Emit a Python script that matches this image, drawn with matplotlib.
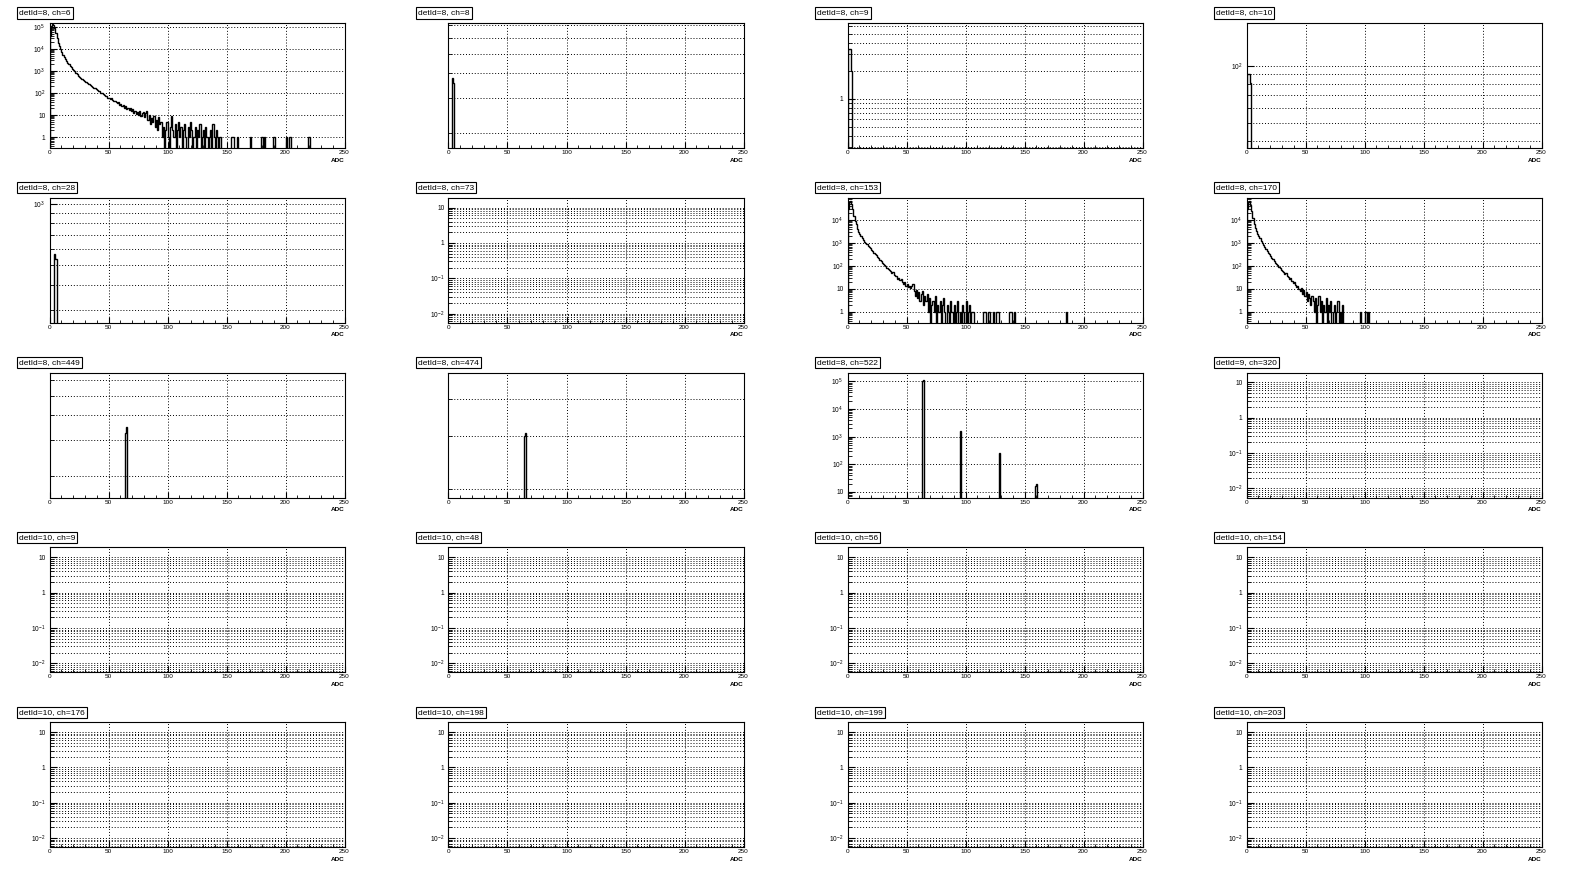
# ROOT-style canvas of ADC spectra, 5 rows x 4 columns, log y

import matplotlib.pyplot as plt
import numpy as np
from matplotlib.ticker import LogLocator, FuncFormatter, MultipleLocator, NullFormatter

plt.rcParams['font.family'] = ['Liberation Sans', 'DejaVu Sans']
plt.rcParams['mathtext.default'] = 'regular'

titles = ["detId=8, ch=6", "detId=8, ch=8", "detId=8, ch=9", "detId=8, ch=10",
          "detId=8, ch=28", "detId=8, ch=73", "detId=8, ch=153", "detId=8, ch=170",
          "detId=8, ch=449", "detId=8, ch=474", "detId=8, ch=522", "detId=9, ch=320",
          "detId=10, ch=9", "detId=10, ch=48", "detId=10, ch=56", "detId=10, ch=154",
          "detId=10, ch=176", "detId=10, ch=198", "detId=10, ch=199", "detId=10, ch=203"]

# counts per 1-ADC bin, starting at bin 0 (rest is zero)
ch6_counts = [40000, 110000, 130000, 120000, 90000, 52000, 30000, 19000, 13000, 9500,
              7500, 5500, 4300, 3400, 2700, 2300, 2000, 1700, 1450, 1250,
              1100, 950, 820, 700, 620, 540, 480, 440, 400, 360,
              320, 300, 270, 250, 225, 210, 190, 175, 165, 150,
              130, 125, 118, 105, 95, 88, 80, 76, 70, 62,
              60, 55, 58, 48, 45, 44, 40, 36, 38, 30,
              33, 26, 28, 22, 25, 19, 22, 17, 20, 15,
              18, 13, 16, 11, 14, 10, 15, 9, 12, 14,
              8, 12, 15, 6, 10, 4, 7, 5, 9, 3,
              6, 2, 8, 4, 5, 1, 3, 0, 2, 5,
              1, 0, 3, 9, 2, 1, 4, 0, 2, 5,
              1, 3, 0, 2, 4, 1, 0, 3, 1, 5,
              2, 0, 1, 3, 0, 2, 1, 4, 0, 1,
              2, 0, 3, 1, 0, 1, 2, 0, 4, 1,
              0, 2, 1, 0, 1, 0, 0, 0, 0, 0,
              0, 0, 0, 0, 1, 1, 0, 0, 0, 1,
              0, 0, 0, 0, 0, 0, 0, 0, 0, 0,
              1, 0, 0, 0, 0, 0, 0, 0, 0, 1,
              1, 0, 1, 0, 0, 0, 0, 0, 0, 1,
              1, 0, 0, 0, 0, 0, 0, 0, 0, 0,
              1, 0, 0, 1, 1, 0, 0, 0, 0, 0,
              0, 0, 0, 0, 0, 0, 0, 0, 0, 1,
              1]

ch153_counts = [30000, 60000, 65000, 50000, 30000, 15000, 9000, 6500, 4300, 3000,
                2600, 2000, 1600, 1300, 1150, 1000, 880, 760, 680, 600,
                520, 450, 380, 330, 290, 250, 215, 190, 160, 140,
                125, 110, 95, 85, 75, 68, 60, 48, 52, 40,
                35, 38, 28, 30, 24, 26, 20, 17, 19, 14,
                16, 12, 14, 11, 13, 17, 8, 5, 9, 4,
                7, 3, 6, 8, 2, 5, 3, 6, 1, 4,
                0, 2, 3, 1, 5, 0, 2, 1, 3, 0,
                2, 4, 1, 0, 2, 1, 0, 3, 1, 0,
                2, 0, 1, 3, 0, 1, 0, 2, 1, 0,
                3, 0, 1, 2, 0, 1, 1, 0, 0, 0,
                0, 0, 0, 0, 0, 1, 1, 0, 0, 1,
                1, 0, 0, 1, 0, 0, 1, 1, 0, 0,
                0, 0, 0, 0, 0, 0, 0, 1, 1, 0,
                0, 1, 0, 0, 0, 0, 0, 0, 0, 0,
                0, 0, 0, 0, 0, 0, 0, 0, 0, 0,
                0, 0, 0, 0, 0, 0, 0, 0, 0, 0,
                0, 0, 0, 0, 0, 0, 0, 0, 0, 0,
                0, 0, 0, 0, 0, 1]

ch170_counts = [30000, 60000, 65000, 45000, 25000, 12500, 7000, 4600, 3200, 2500,
                2000, 1600, 1250, 1000, 850, 700, 560, 460, 380, 320,
                270, 230, 200, 170, 140, 120, 105, 92, 80, 68,
                60, 52, 45, 48, 38, 33, 28, 30, 22, 18,
                20, 15, 12, 14, 10, 8, 11, 6, 9, 5,
                7, 3, 6, 4, 2, 5, 3, 1, 4, 0,
                2, 5, 1, 3, 0, 2, 1, 4, 0, 2,
                1, 3, 0, 1, 2, 0, 1, 3, 0, 1,
                0, 2, 0, 0, 0, 0, 0, 0, 0, 0,
                0, 0, 0, 0, 0, 0, 1, 0, 0, 0,
                1, 1, 0, 1]

# narrow peaks: (bin, count)
ch8_peaks = [(3, 378), (4, 356)]
ch9_peaks = [(0, 3.45), (1, 3.45), (2, 3.45), (3, 2.0)]
ch10_peaks = [(0, 90), (1, 90), (2, 90), (3, 81)]
ch28_peaks = [(4, 564), (5, 537)]
ch449_peaks = [(64, 327), (65, 348)]
ch474_peaks = [(64, 300), (65, 307)]
ch522_peaks = [(63, 105000), (64, 110000), (95, 1600), (128, 250), (159, 16), (160, 19)]

# y range of each pad
y_ranges = [(0.32, 1.5e5), (169, 714), (0.295, 6.5), (36.9, 168),
            (260, 1070), (0.0055, 19), (0.33, 9.4e4), (0.33, 9.4e4),
            (156, 650), (187, 490), (6.2, 2.1e5), (0.0055, 19),
            (0.0055, 19), (0.0055, 19), (0.0055, 19), (0.0055, 19),
            (0.0055, 19), (0.0055, 19), (0.0055, 19), (0.0055, 19)]

hist_data = {0: ch6_counts, 6: ch153_counts, 7: ch170_counts}
peak_data = {1: ch8_peaks, 2: ch9_peaks, 3: ch10_peaks, 4: ch28_peaks,
             8: ch449_peaks, 9: ch474_peaks, 10: ch522_peaks}

W, H = 1596, 874
fig = plt.figure(figsize=(W / 100, H / 100), dpi=100)
edges = np.arange(0, 251)


def ylabel_fmt(v, pos):
    e = int(round(np.log10(v)))
    if abs(v / 10.0 ** e - 1) > 1e-6:
        return ''
    if e == 0:
        return '1'
    if e == 1:
        return '10'
    return '$10^{%d}$' % e


for i in range(20):
    r, c = i // 4, i % 4
    left = c * 399 + 49.5
    top = r * 174.8 + 23
    ax = fig.add_axes([left / W, 1 - (top + 125) / H, 295 / W, 125 / H])
    ymin, ymax = y_ranges[i]
    ax.set_yscale('log')
    ax.set_xlim(0, 250)
    ax.set_ylim(ymin, ymax)

    counts = np.zeros(250)
    if i in hist_data:
        vals = hist_data[i]
        counts[:len(vals)] = vals
    if i in peak_data:
        for b, v in peak_data[i]:
            counts[b] = v
    if counts.sum() > 0:
        floor = ymin * 1e-3
        ax.stairs(np.where(counts > 0, counts, floor), edges, baseline=floor,
                  color='black', lw=1.0)

    ax.xaxis.set_major_locator(MultipleLocator(50))
    ax.xaxis.set_minor_locator(MultipleLocator(10))
    ax.yaxis.set_major_locator(LogLocator(base=10, numticks=30))
    ax.yaxis.set_minor_locator(LogLocator(base=10, subs=np.arange(2, 10), numticks=30))
    ax.yaxis.set_major_formatter(FuncFormatter(ylabel_fmt))
    ax.yaxis.set_minor_formatter(NullFormatter())

    ax.tick_params(which='both', direction='in', top=False, right=False, colors='black')
    ax.tick_params(axis='x', which='major', length=4.5, pad=1.5, labelsize=4.6)
    ax.tick_params(axis='x', which='minor', length=2.3)
    ax.tick_params(axis='y', which='major', length=5, pad=3, labelsize=4.8)
    ax.tick_params(axis='y', which='minor', length=2.8)

    gs = dict(color='black', linestyle=(0, (1, 2)), lw=0.7)
    ax.xaxis.grid(True, which='major', **gs)
    if np.log10(ymax / ymin) < 4:
        ax.yaxis.grid(True, which='both', **gs)
    else:
        ax.yaxis.grid(True, which='major', **gs)
    for s in ax.spines.values():
        s.set_linewidth(0.8)

    fig.text((c * 399 + 19) / W, 1 - (r * 174.8 + 13) / H, titles[i],
             fontsize=6.0, ha='left', va='center',
             bbox=dict(boxstyle='square,pad=0.25', fc='white', ec='black', lw=0.8))
    fig.text((left + 295) / W, 1 - (top + 125 + 12) / H, 'ADC',
             fontsize=4.6, fontweight='bold', ha='right', va='center')

plt.savefig('out.png', dpi=100)
